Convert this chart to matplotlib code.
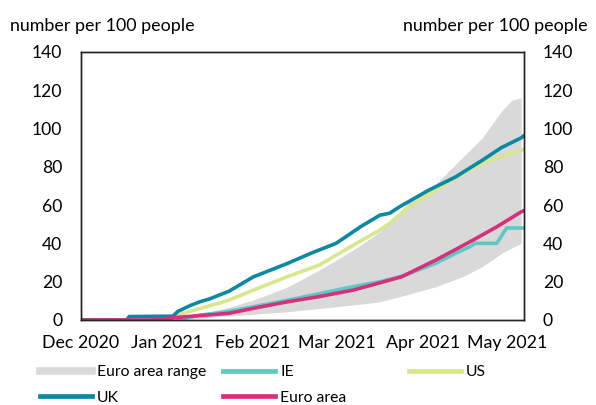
import matplotlib
matplotlib.use("Agg")
import matplotlib.pyplot as plt
from matplotlib.lines import Line2D

plt.rcParams['font.family'] = ['Lato', 'DejaVu Sans']

# x in days since 1 Dec 2020
tick_days = [0, 35.5, 70.8, 105.5, 140.7, 175.5]
tick_labels = ["Dec 2020", "Jan 2021", "Feb 2021", "Mar 2021", "Apr 2021", "May 2021"]

range_days = [0, 39, 45, 57, 71, 85, 98, 112, 123, 135, 146, 157, 165, 173, 177, 181]
range_low = [0, 0, 0.5, 1.7, 3.0, 4.3, 6.0, 7.8, 9.5, 13.5, 17.4, 22.6, 27.8, 34.8, 37.5, 40]
range_high = [0, 0, 2.5, 5.2, 10.4, 17.2, 26, 36.5, 46, 61.6, 71, 85, 95, 109, 114.6, 116]

uk_days = [0, 19, 20, 38, 40, 45, 49, 53, 57, 61, 71, 85, 95, 105, 115, 123, 127, 131, 143, 154, 165, 173, 181, 182]
uk_vals = [0, 0, 1.8, 2, 4.5, 7.5, 9.5, 11, 13, 15, 22.5, 29.5, 35, 40, 48.6, 54.7, 55.7, 59, 67.7, 74.6, 83.3, 90, 95, 96]

us_days = [0, 38, 41, 49, 57, 61, 71, 85, 98, 112, 123, 127, 135, 146, 157, 168, 181, 182]
us_vals = [0, 0, 3.0, 6.0, 8.8, 10.4, 15.6, 22.6, 28.6, 39, 46.9, 50.5, 59, 67.7, 76.4, 83.3, 88.5, 89]

ea_days = [0, 29, 41, 61, 71, 85, 98, 112, 123, 132, 146, 160, 171, 181, 182]
ea_vals = [0, 0, 1.5, 3.5, 6.1, 9.5, 12.2, 15.6, 19.4, 22.6, 31.3, 40.8, 48.6, 56.4, 57]

ie_days = [0, 39, 49, 61, 85, 112, 123, 132, 146, 154, 160, 162, 171, 175, 182]
ie_vals = [0, 0, 2.5, 4.5, 10.3, 17.4, 20, 22.8, 29.6, 34.8, 38.2, 40, 40, 48, 48]

C_RANGE = "#d9d9d9"
C_IE = "#5ec8c4"
C_US = "#d9e68b"
C_UK = "#0b88a3"
C_EA = "#d6307c"

W, H = 596, 405
fig = plt.figure(figsize=(W/100, H/100), dpi=100)
renderer = fig.canvas.get_renderer()


def fit_size(text, target_px):
    t = fig.text(0, 0, text, fontsize=10)
    w = t.get_window_extent(renderer).width
    t.remove()
    return 10 * target_px / w


fs_title = fit_size("number per 100 people", 186)
fs_y = fit_size("140", 30.6)
fs_x = fit_size("Dec 2020", 77)
fs_leg = fit_size("Euro area range", 109)

ax = fig.add_axes([80.5/W, 85/H, 443/W, 268.3/H])

ax.fill_between(range_days, range_low, range_high, color=C_RANGE, linewidth=0)
lw = 2.6
ax.plot(ie_days, ie_vals, color=C_IE, lw=lw)
ax.plot(us_days, us_vals, color=C_US, lw=lw)
ax.plot(uk_days, uk_vals, color=C_UK, lw=lw)
ax.plot(ea_days, ea_vals, color=C_EA, lw=lw)

ax.set_xlim(0, 182)
ax.set_ylim(0, 140)
ax.set_yticks(range(0, 141, 20))
ax.set_xticks(tick_days)
ax.set_xticklabels(tick_labels)
ax.tick_params(axis='x', length=0, labelsize=fs_x, pad=11)
ax.tick_params(axis='y', length=0, labelsize=fs_y, pad=13)

ax2 = ax.twinx()
ax2.set_ylim(0, 140)
ax2.set_yticks(range(0, 141, 20))
ax2.tick_params(axis='y', length=0, labelsize=fs_y, pad=14)

for a in (ax, ax2):
    for s in a.spines.values():
        s.set_color('#222222')
        s.set_linewidth(1.0)

fig.text(10/W, 1 - 31/H, "number per 100 people", fontsize=fs_title, ha='left', va='baseline')
fig.text(588/W, 1 - 31/H, "number per 100 people", fontsize=fs_title, ha='right', va='baseline')

# legend entries in a fixed grid
entries = [
    (Line2D([], [], color=C_RANGE, lw=5.5), "Euro area range", 40, 372),
    (Line2D([], [], color=C_IE, lw=3.4), "IE", 223, 372),
    (Line2D([], [], color=C_US, lw=3.4), "US", 409, 372),
    (Line2D([], [], color=C_UK, lw=3.4), "UK", 40, 397.5),
    (Line2D([], [], color=C_EA, lw=3.4), "Euro area", 223, 397.5),
]
fs_px = fs_leg * 100 / 72
for h, lab, x, y in entries:
    fig.legend([h], [lab], loc='center left', bbox_to_anchor=(x/W, 1 - y/H),
               frameon=False, fontsize=fs_leg, handlelength=52/fs_px,
               handletextpad=5/fs_px, borderaxespad=0, borderpad=0)

fig.savefig("out.png", dpi=100)
